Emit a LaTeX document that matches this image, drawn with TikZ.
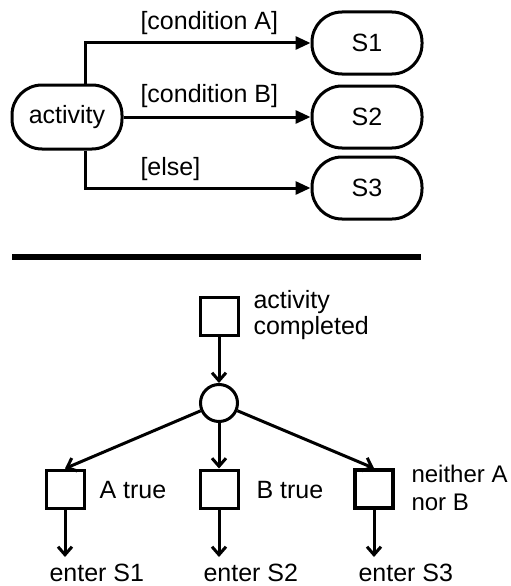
\documentclass[tikz,border=0pt]{standalone}
\usepackage{fontspec}
\setmainfont{Liberation Sans}
\usetikzlibrary{arrows.meta}
\begin{document}
\begin{tikzpicture}[x=1pt,y=-1pt, line width=3pt,
  every node/.style={font=\fontsize{25}{26}\selectfont, inner sep=0pt},
  state/.style={draw, rounded corners=30pt, minimum width=110pt, minimum height=62pt},
  sq/.style={draw, minimum size=38pt},
  tri/.style={-{Triangle[length=15pt,width=13pt]}},
  opn/.style={-{Straight Barb[length=8pt,width=14pt]}}]
\useasboundingbox (0,0) rectangle (511,586);
% top part
\node[state, minimum height=64pt] (act) at (67,117) {activity};
\node[state] (s1) at (367,43) {S1};
\node[state] (s2) at (367,117) {S2};
\node[state] (s3) at (367,188) {S3};
\draw[tri] ([xshift=18pt]act.north) |- (s1);
\draw[tri] (act) -- (s2);
\draw[tri] ([xshift=18pt]act.south) |- (s3);
\node[anchor=west] (la) at (139,23) {[condition A]};
\node[anchor=west] (lb) at (139,96) {[condition B]};
\node[anchor=west] (le) at (139,169) {[else]};
% separator
\draw[line width=5.5pt] (12,257) -- (421,257);
% bottom part
\node[sq] (sq0) at (219,316) {};
\node[anchor=west, align=left] (t0) at (252,315) {activity\\completed};
\node[draw, circle, minimum size=37pt] (c) at (219,403) {};
\node[sq] (sq1) at (65,489) {};
\node[sq] (sq2) at (219,489) {};
\node[sq, line width=3.5pt] (sq3) at (374,489) {};
\node[anchor=west] (ta) at (98,490) {A true};
\node[anchor=west] (tb) at (255,490) {B true};
\node[anchor=west, align=left, font=\fontsize{24}{28}\selectfont] (tn) at (410,488) {neither A\\nor B};
\coordinate (e1) at (65,557);
\coordinate (e2) at (219,557);
\coordinate (e3) at (374,557);
\node[anchor=west] (n1) at (48,573) {enter S1};
\node[anchor=west] (n2) at (202,573) {enter S2};
\node[anchor=west] (n3) at (357,573) {enter S3};
\draw[opn] (sq0) -- (c);
\draw[opn] (c) -- (sq1.north);
\draw[opn] (c) -- (sq2);
\draw[opn] (c) -- (sq3.north);
\draw[opn] (sq1) -- (e1);
\draw[opn] (sq2) -- (e2);
\draw[opn] (sq3) -- (e3);
\end{tikzpicture}
\end{document}
